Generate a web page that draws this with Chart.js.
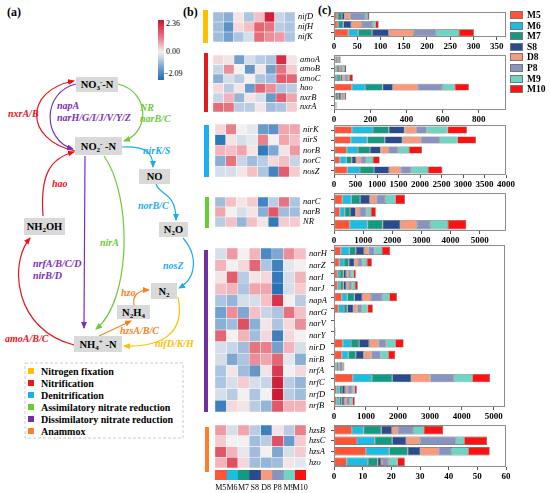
<!DOCTYPE html>
<html>
<head>
<meta charset="utf-8">
<script src="https://cdn.jsdelivr.net/npm/chart.js"></script>
<style>
  body { margin: 0; background: #fff; }
  #fig { position: relative; width: 550px; height: 493px; overflow: hidden; font-family: "Liberation Serif", serif; }
  #fig canvas { position: absolute; display: block; }
  .abs { position: absolute; }
  .grp { position: absolute; }
  .lg { position: absolute; font-weight: bold; font-size: 9.5px; line-height: 10px; }
  .lg i { position: absolute; left: 0; top: 1px; width: 13px; height: 8px; border: 0.5px solid #777; box-sizing: border-box; }
  .lg span { position: absolute; left: 17px; top: 0; }
</style>
</head>
<body>
<div id="fig">
<svg class="abs" style="left:0;top:0" width="205" height="493" font-family="Liberation Serif, serif">
  <defs>
    <marker id="aR" markerWidth="7" markerHeight="6" refX="6" refY="3" orient="auto" markerUnits="userSpaceOnUse"><path d="M0,0 L7,3 L0,6 z" fill="#e8141c"/></marker>
    <marker id="aP" markerWidth="7" markerHeight="6" refX="6" refY="3" orient="auto" markerUnits="userSpaceOnUse"><path d="M0,0 L7,3 L0,6 z" fill="#7a30b8"/></marker>
    <marker id="aG" markerWidth="7" markerHeight="6" refX="6" refY="3" orient="auto" markerUnits="userSpaceOnUse"><path d="M0,0 L7,3 L0,6 z" fill="#6cc93a"/></marker>
    <marker id="aB" markerWidth="7" markerHeight="6" refX="6" refY="3" orient="auto" markerUnits="userSpaceOnUse"><path d="M0,0 L7,3 L0,6 z" fill="#1aaee8"/></marker>
    <marker id="aO" markerWidth="7" markerHeight="6" refX="6" refY="3" orient="auto" markerUnits="userSpaceOnUse"><path d="M0,0 L7,3 L0,6 z" fill="#f58220"/></marker>
    <marker id="aY" markerWidth="7" markerHeight="6" refX="6" refY="3" orient="auto" markerUnits="userSpaceOnUse"><path d="M0,0 L7,3 L0,6 z" fill="#ffc000"/></marker>
  </defs>
  <text x="7" y="16" font-weight="bold" font-size="12">(a)</text>

  <!-- pathway arrows -->
  <g fill="none" stroke-width="1.2">
    <path d="M75,151 C24,140 24,90 74,81" stroke="#e8141c" marker-end="url(#aR)"/>
    <path d="M76,84 C42,92 42,140 73,149" stroke="#7a30b8" marker-end="url(#aP)"/>
    <path d="M118,84 C150,92 150,132 124,141" stroke="#6cc93a" marker-end="url(#aG)"/>
    <path d="M122,147 C145,146 153,152 153,167" stroke="#1aaee8" marker-end="url(#aB)"/>
    <path d="M156,184 C160,196 176,192 176,220" stroke="#1aaee8" marker-end="url(#aB)"/>
    <path d="M183,238 C198,255 197,278 179,288" stroke="#1aaee8" marker-end="url(#aB)"/>
    <path d="M43,216 C40,175 50,158 74,152" stroke="#e8141c" marker-end="url(#aR)"/>
    <path d="M74,345 C15,330 8,265 30,238" stroke="#e8141c" marker-end="url(#aR)"/>
    <path d="M104,156 C132,195 132,300 96,329" stroke="#6cc93a" marker-end="url(#aG)"/>
    <path d="M85,156 L84,328" stroke="#7a30b8" marker-end="url(#aP)"/>
    <path d="M99,336 L131,321" stroke="#f58220" marker-end="url(#aO)"/>
    <path d="M134,305 C132,295 139,290 149,290" stroke="#f58220" marker-end="url(#aO)"/>
    <path d="M178,297 C186,335 160,347 124,346" stroke="#ffc000" marker-end="url(#aY)"/>
  </g>

  <!-- nodes -->
  <g fill="#d9d9d9">
    <rect x="76" y="77" width="42" height="15"/>
    <rect x="75" y="137" width="47" height="18"/>
    <rect x="139" y="169" width="31" height="15"/>
    <rect x="159" y="222" width="29" height="15"/>
    <rect x="24" y="218" width="41" height="17"/>
    <rect x="151" y="283" width="26" height="16"/>
    <rect x="117" y="305" width="33" height="14"/>
    <rect x="74" y="336" width="48" height="16"/>
  </g>
  <g font-weight="bold" font-size="10.5" text-anchor="middle" fill="#000">
    <text x="97" y="88">NO<tspan font-size="7" dy="2">3</tspan><tspan font-size="7" dy="-6">-</tspan><tspan dy="4">-N</tspan></text>
    <text x="98.5" y="150">NO<tspan font-size="7" dy="2">2</tspan><tspan font-size="7" dy="-6">-</tspan><tspan dy="4"> -N</tspan></text>
    <text x="154.5" y="180">NO</text>
    <text x="173.5" y="233">N<tspan font-size="7" dy="2">2</tspan><tspan dy="-2">O</tspan></text>
    <text x="44.5" y="230">NH<tspan font-size="7" dy="2">2</tspan><tspan dy="-2">OH</tspan></text>
    <text x="164" y="295">N<tspan font-size="7" dy="2">2</tspan></text>
    <text x="133.5" y="316">N<tspan font-size="7" dy="2">2</tspan><tspan dy="-2">H</tspan><tspan font-size="7" dy="2">4</tspan></text>
    <text x="98" y="348">NH<tspan font-size="7" dy="2">4</tspan><tspan font-size="7" dy="-6">+</tspan><tspan dy="4"> -N</tspan></text>
  </g>

  <!-- gene labels -->
  <g font-weight="bold" font-style="italic" font-size="10">
    <text x="8" y="117" fill="#e8141c">nxrA/B</text>
    <text x="57" y="109" fill="#7a30b8">napA</text>
    <text x="57" y="121" fill="#7a30b8">narH/G/I/J/V/Y/Z</text>
    <text x="140" y="111" fill="#6cc93a">NR</text>
    <text x="140" y="122" fill="#6cc93a">narB/C</text>
    <text x="143" y="154" fill="#1aaee8">nirK/S</text>
    <text x="52" y="187" fill="#e8141c">hao</text>
    <text x="138" y="209" fill="#1aaee8">norB/C</text>
    <text x="100" y="246" fill="#6cc93a">nirA</text>
    <text x="33" y="267" fill="#7a30b8">nrfA/B/C/D</text>
    <text x="33" y="279" fill="#7a30b8">nirB/D</text>
    <text x="163" y="269" fill="#1aaee8">nosZ</text>
    <text x="121" y="296" fill="#f58220">hzo</text>
    <text x="5" y="342" fill="#e8141c">amoA/B/C</text>
    <text x="120" y="334" fill="#f58220">hzsA/B/C</text>
    <text x="155" y="347" fill="#ffc000">nifD/K/H</text>
  </g>

  <!-- pathway legend -->
  <rect x="25" y="363" width="158" height="75" fill="none" stroke="#bdbdbd" stroke-width="0.8" stroke-dasharray="3,2"/>
  <g font-weight="bold" font-size="10">
    <rect x="28" y="368" width="6" height="6" fill="#ffc000"/><text x="41" y="374.5">Nitrogen fixation</text>
    <rect x="28" y="380" width="6" height="6" fill="#e41a1c"/><text x="41" y="386.5">Nitrification</text>
    <rect x="28" y="392" width="6" height="6" fill="#1ab0f0"/><text x="41" y="398.5">Denitrification</text>
    <rect x="28" y="404" width="6" height="6" fill="#66cc33"/><text x="41" y="410.5">Assimilatory nitrate reduction</text>
    <rect x="28" y="416" width="6" height="6" fill="#7030a0"/><text x="41" y="422.5">Dissimilatory nitrate reduction</text>
    <rect x="28" y="428" width="6" height="6" fill="#ff7f27"/><text x="41" y="434.5">Anammox</text>
  </g>

  <!-- heatmap colour key -->
  <text x="183" y="16" font-weight="bold" font-size="12">(b)</text>
  <g font-size="8">
    <text x="166" y="26">2.36</text>
    <text x="166" y="54">0.00</text>
    <text x="164" y="76">−2.09</text>
  </g>
</svg>
<div class="abs" style="left:158px;top:20px;width:6px;height:60px;background:linear-gradient(to bottom,#cf1530 0%,#e87380 28%,#f2f0f0 53%,#b9cce4 66%,#73a0cd 80%,#1f6eb4 100%)"></div>
<div class="abs" style="left:318px;top:3px;font-weight:bold;font-size:12px">(c)</div>
</div>

<script>
// sample order (columns of the heatmap, stacks of the bars)
const samples = ["M5", "M6", "M7", "S8", "D8", "P8", "M9", "M10"];
const sampleColors = ["#ff5436", "#1bbde3", "#129b80", "#2a4c8e", "#f89a7c", "#8893c0", "#6fd5c2", "#ff1111"];

// nitrogen fixation
const nifGenes = ["nifD", "nifH", "nifK"];
const nifZ = [
  [-0.6, -0.8, 0.1, -0.5, 0.4, 2.2, -0.3, -0.5],
  [-0.6, -1.3, 0.2, 0.4, 1.2, 1.0, -0.4, -0.5],
  [-0.6, -1.0, -0.5, -0.2, 1.1, 0.8, 0.7, -0.5]
];
const nifAbund = [
  [6, 2, 9, 6, 12, 32, 6, 3],
  [7, 2, 11, 17, 23, 22, 7, 7],
  [31, 21, 30, 36, 54, 48, 49, 32]
];
const nifTicks = [0, 50, 100, 150, 200, 250, 300, 350];

// nitrification
const nitGenes = ["amoA", "amoB", "amoC", "hao", "nxrB", "nxrA"];
const nitZ = [
  [0.2, 0.1, -1.0, -0.2, -0.4, -0.5, 2.0, 0.1],
  [-0.3, 0.8, 0.0, -1.2, 0.1, -1.0, 1.0, 0.3],
  [-0.8, -0.2, -0.4, 0.0, -0.5, -0.6, 1.3, 1.2],
  [0.2, -0.4, 0.1, -1.1, 1.2, 0.8, -0.5, -0.4],
  [-0.3, 0.5, -0.7, 0.1, -0.2, -1.1, 1.3, 0.6],
  [1.1, 1.0, -0.4, -0.4, 0.1, -0.6, -0.5, 0.3]
];
const nitAbund = [
  [5, 4, 3, 8, 4, 5, 5, 3],
  [8, 5, 10, 6, 9, 10, 12, 7],
  [10, 12, 13, 11, 12, 14, 12, 20],
  [98, 74, 96, 57, 137, 135, 70, 78],
  [9, 8, 9, 7, 8, 10, 8, 8],
  [2, 2, 3, 3, 2, 2, 2, 2]
];
const nitTicks = [0, 200, 400, 600, 800];

// denitrification
const denGenes = ["nirK", "nirS", "norB", "norC", "nosZ"];
const denZ = [
  [0.2, 0.9, 0.0, -0.1, -1.1, -1.3, 0.6, 0.6],
  [-1.9, 0.1, -0.2, -0.1, 0.9, 0.0, 0.6, 0.4],
  [0.5, 0.4, 0.6, 0.1, -1.8, -0.9, 0.1, 0.7],
  [-0.8, 1.0, -0.3, -0.6, -0.4, 0.2, 0.4, -0.3],
  [-0.2, -0.2, 0.1, 0.4, -0.5, -1.6, 1.3, 0.3]
];
const denAbund = [
  [414, 492, 367, 367, 273, 242, 484, 453],
  [388, 388, 403, 411, 426, 426, 426, 434],
  [295, 264, 279, 248, 194, 217, 248, 302],
  [132, 155, 124, 108, 101, 132, 155, 155],
  [310, 295, 326, 349, 271, 248, 388, 333]
];
const denTicks = [0, 500, 1000, 1500, 2000, 2500, 3000, 3500, 4000];

// assimilatory nitrate reduction
const assGenes = ["narC", "narB", "NR"];
const assZ = [
  [-0.6, 0.4, 0.1, 0.3, -1.6, -0.4, 1.0, -0.5],
  [0.6, 0.0, -0.2, 0.1, -0.8, 1.4, -0.6, -0.6],
  [-0.4, 0.4, -0.7, 0.4, 0.1, -1.8, 0.3, 0.3]
];
const assAbund = [
  [287, 310, 299, 333, 230, 287, 356, 333],
  [195, 172, 184, 195, 149, 218, 149, 172],
  [540, 609, 517, 609, 563, 460, 609, 632]
];
const assTicks = [0, 1000, 2000, 3000, 4000, 5000];

// dissimilatory nitrate reduction
const disGenes = ["narH", "narZ", "narI", "narJ", "napA", "narG", "narV", "narY", "nirD", "nirB", "nrfA", "nrfC", "nrfD", "nrfB"];
const disZ = [
  [-0.2, 0.7, 0.0, 0.5, -1.5, -0.9, 0.8, 0.4],
  [0.5, 0.0, 0.2, 1.2, -0.5, -1.7, -0.1, 0.0],
  [0.1, 1.3, -0.4, 0.1, 0.2, -1.8, -0.2, 0.5],
  [0.4, 0.5, -0.5, 0.6, 0.6, -2.0, -0.2, 0.3],
  [-0.5, -0.7, -0.2, -0.2, 0.4, 1.9, 0.0, -0.4],
  [-1.0, 0.8, -0.9, 0.4, -0.3, -0.5, 1.0, 0.4],
  [-0.8, -0.6, 1.5, -0.8, 0.1, -0.5, 0.2, 0.8],
  [1.2, 0.0, 0.5, -0.6, 0.2, -1.7, 0.2, 0.0],
  [-0.2, -0.3, -0.6, 1.0, 0.9, -1.0, 0.5, -0.2],
  [-0.2, -0.9, -0.5, 0.8, 0.6, 1.2, -0.1, -0.8],
  [-0.5, 0.1, -0.6, -1.2, 0.1, 1.8, 0.0, 0.2],
  [-0.5, -0.2, 0.3, -0.2, -0.3, 2.2, -0.4, -0.7],
  [-0.2, -0.4, 0.0, -0.5, 0.0, 2.3, -0.4, -0.6],
  [-1.7, 0.2, 0.1, -0.4, -0.7, 1.4, 0.5, 0.5]
];
const disAbund = [
  [210, 272, 199, 262, 136, 188, 230, 262],
  [168, 147, 147, 178, 115, 136, 136, 157],
  [105, 84, 105, 84, 73, 73, 84, 73],
  [110, 84, 100, 90, 80, 90, 100, 90],
  [241, 178, 220, 241, 272, 356, 220, 241],
  [136, 178, 105, 188, 126, 136, 178, 168],
  [3, 2, 3, 2, 2, 4, 2, 2],
  [8, 7, 8, 8, 7, 9, 8, 8],
  [272, 262, 251, 314, 293, 230, 293, 262],
  [241, 209, 230, 251, 241, 283, 241, 220],
  [42, 42, 52, 31, 21, 84, 21, 31],
  [586, 597, 639, 597, 597, 733, 576, 555],
  [84, 84, 84, 94, 84, 147, 63, 73],
  [84, 84, 73, 73, 73, 105, 84, 73]
];
const disTicks = [0, 1000, 2000, 3000, 4000, 5000];

// anammox
const anaGenes = ["hzsB", "hzsC", "hzsA", "hzo"];
const anaZ = [
  [0.7, -0.2, 0.6, -0.4, -1.7, 0.1, -0.4, 0.9],
  [0.3, 0.0, 0.0, -0.6, -0.4, 1.5, -1.1, 0.3],
  [1.4, 0.5, -0.1, -0.6, 0.0, -0.9, -0.2, 0.3],
  [0.5, 1.5, 0.2, -0.6, -0.7, -0.6, 0.1, -0.1]
];
const anaAbund = [
  [6.2, 4.1, 6.2, 3.7, 2.0, 5.4, 3.7, 6.8],
  [8.0, 6.2, 6.1, 4.9, 4.7, 12.6, 2.9, 8.0],
  [11.1, 8.2, 6.4, 4.4, 6.4, 4.3, 6.0, 7.5],
  [4.4, 7.4, 3.4, 1.2, 0.7, 1.8, 3.2, 2.6]
];
const anaTicks = [0, 10, 20, 30, 40, 50, 60];

Chart.defaults.font.family = "'Liberation Serif', serif";
Chart.defaults.color = "#000";

const fig = document.getElementById("fig");

function addCanvas(x, y, w, h) {
  const c = document.createElement("canvas");
  c.width = w; c.height = h;
  c.style.left = x + "px"; c.style.top = y + "px";
  c.style.width = w + "px"; c.style.height = h + "px";
  fig.appendChild(c);
  return c;
}

// blue - white - red scale of the z-scores
const zStops = [
  [-2.09, [31, 110, 180]],
  [-1.0, [115, 160, 205]],
  [-0.4, [185, 204, 228]],
  [0, [242, 240, 240]],
  [0.4, [245, 192, 197]],
  [1.0, [232, 115, 128]],
  [2.36, [207, 21, 48]]
];
function zColor(v) {
  if (v <= zStops[0][0]) return `rgb(${zStops[0][1].join(",")})`;
  for (let k = 1; k < zStops.length; k++) {
    if (v <= zStops[k][0]) {
      const [v0, c0] = zStops[k - 1], [v1, c1] = zStops[k];
      const t = (v - v0) / (v1 - v0);
      return `rgb(${c0.map((c, j) => Math.round(c + (c1[j] - c) * t)).join(",")})`;
    }
  }
  return `rgb(${zStops[zStops.length - 1][1].join(",")})`;
}

// box round the plot area
const frame = {
  id: "frame",
  afterDatasetsDraw(chart) {
    const a = chart.chartArea, ctx = chart.ctx;
    ctx.save();
    ctx.strokeStyle = "#8c8c8c";
    ctx.lineWidth = 1;
    ctx.strokeRect(a.left + 0.5, a.top + 0.5, a.right - a.left - 1, a.bottom - a.top - 1);
    ctx.restore();
  }
};

function heatPanel(box, genes, z) {
  const yW = 30;
  const cv = addCanvas(box[0], box[1], box[2] + yW, box[3]);
  new Chart(cv, {
    type: "bar",
    data: {
      labels: genes,
      datasets: samples.map((s, i) => ({
        label: s,
        data: genes.map(() => [i, i + 1]),
        backgroundColor: z.map(r => zColor(r[i])),
        borderColor: "rgba(255,255,255,0.75)",
        borderWidth: 0.5,
        borderSkipped: false,
        barPercentage: 1,
        categoryPercentage: 1,
        grouped: false
      }))
    },
    options: {
      indexAxis: "y", responsive: false, animation: false, devicePixelRatio: 1,
      layout: { padding: 0 },
      plugins: { legend: { display: false }, tooltip: { enabled: false } },
      scales: {
        x: { display: false, min: 0, max: samples.length },
        y: {
          position: "right",
          grid: { display: false, drawTicks: false },
          border: { display: false },
          ticks: { font: { size: 8.5, style: "italic" }, padding: 3, autoSkip: false },
          afterFit: s => { s.width = yW; s.paddingTop = 0; s.paddingBottom = 0; }
        }
      }
    }
  });
}

function sampleStrip(box) {
  const pad = 10, xH = 14;
  const cv = addCanvas(box[0] - pad, box[1], box[2] + 2 * pad, box[3] + xH);
  new Chart(cv, {
    type: "bar",
    data: {
      labels: [""],
      datasets: samples.map((s, i) => ({
        label: s,
        data: [[i, i + 1]],
        backgroundColor: sampleColors[i],
        borderWidth: 0,
        barPercentage: 1,
        categoryPercentage: 1,
        grouped: false
      }))
    },
    options: {
      indexAxis: "y", responsive: false, animation: false, devicePixelRatio: 1,
      layout: { padding: { left: pad, right: pad, top: 0, bottom: 0 } },
      plugins: { legend: { display: false }, tooltip: { enabled: false } },
      scales: {
        y: { display: false },
        x: {
          min: 0, max: samples.length,
          grid: { display: false, drawTicks: false },
          border: { display: false },
          ticks: { font: { size: 8 }, padding: 3, maxRotation: 0, autoSkip: false, callback: (v, i) => samples[i] },
          afterBuildTicks: s => { s.ticks = samples.map((_, i) => ({ value: i + 0.5 })); },
          afterFit: s => { s.height = xH; s.paddingLeft = 0; s.paddingRight = 0; }
        }
      }
    }
  });
}

function barPanel(box, genes, abund, xMax, ticks, barPct) {
  const padL = 12, padR = 16, yW = 3, xH = 14, padT = 1;
  const cv = addCanvas(box[0] - padL - yW, box[1] - padT, box[2] + padL + yW + padR, box[3] + padT + xH);
  new Chart(cv, {
    type: "bar",
    data: {
      labels: genes,
      datasets: samples.map((s, i) => ({
        label: s,
        data: abund.map(r => r[i]),
        backgroundColor: sampleColors[i],
        borderColor: "#5a5a5a",
        borderWidth: 0.6,
        borderSkipped: false,
        barPercentage: barPct,
        categoryPercentage: 1
      }))
    },
    options: {
      indexAxis: "y", responsive: false, animation: false, devicePixelRatio: 1,
      layout: { padding: { left: padL, right: padR, top: padT, bottom: 0 } },
      plugins: { legend: { display: false }, tooltip: { enabled: false } },
      scales: {
        x: {
          stacked: true, min: 0, max: xMax,
          border: { display: false },
          grid: { drawOnChartArea: false, tickLength: 3, color: "#555" },
          ticks: { font: { size: 9, weight: "bold" }, padding: 1, maxRotation: 0, autoSkip: false, callback: v => v },
          afterBuildTicks: s => { s.ticks = ticks.map(v => ({ value: v })); },
          afterFit: s => { s.height = xH; s.paddingLeft = 0; s.paddingRight = 0; }
        },
        y: {
          stacked: true,
          border: { display: false },
          grid: { drawOnChartArea: false, offset: false, tickLength: 3, color: "#555" },
          ticks: { display: false },
          afterFit: s => { s.width = yW; s.paddingTop = 0; s.paddingBottom = 0; }
        }
      }
    },
    plugins: [frame]
  });
}

// group markers left of the heatmap
const groupBars = [
  [203, 10, 5, 33, "#ffc000"],
  [204, 53, 4, 59, "#e41a1c"],
  [204, 125, 5, 52, "#1ab0f0"],
  [205, 197, 4, 31, "#66cc33"],
  [204, 250, 4, 162, "#7030a0"],
  [205, 427, 4, 45, "#ff7f27"]
];
groupBars.forEach(([x, y, w, h, c]) => {
  const d = document.createElement("div");
  d.className = "grp";
  d.style.cssText = `left:${x}px;top:${y}px;width:${w}px;height:${h}px;background:${c}`;
  fig.appendChild(d);
});

heatPanel([213, 12, 82, 30], nifGenes, nifZ);
heatPanel([213, 55, 84, 57], nitGenes, nitZ);
heatPanel([215, 124, 85, 53], denGenes, denZ);
heatPanel([215, 197, 85, 30], assGenes, assZ);
heatPanel([215, 248, 91, 164], disGenes, disZ);
heatPanel([215, 425, 91, 43], anaGenes, anaZ);
sampleStrip([215, 470, 91, 10]);

barPanel([334, 12, 172, 25], nifGenes, nifAbund, 370, nifTicks, 0.85);
barPanel([334, 55, 172, 55], nitGenes, nitAbund, 950, nitTicks, 0.75);
barPanel([334, 125, 172, 50], denGenes, denAbund, 4000, denTicks, 0.72);
barPanel([334, 193, 172, 38], assGenes, assAbund, 5900, assTicks, 0.75);
barPanel([334, 245, 171, 162], disGenes, disAbund, 5350, disTicks, 0.72);
barPanel([334, 425, 172, 42], anaGenes, anaAbund, 60, anaTicks, 0.8);

// sample legend of panel (c)
samples.forEach((s, i) => {
  const d = document.createElement("div");
  d.className = "lg";
  d.style.left = "510px";
  d.style.top = (10 + i * 10.6) + "px";
  d.innerHTML = `<i style="background:${sampleColors[i]}"></i><span>${s}</span>`;
  fig.appendChild(d);
});
</script>
</body>
</html>
